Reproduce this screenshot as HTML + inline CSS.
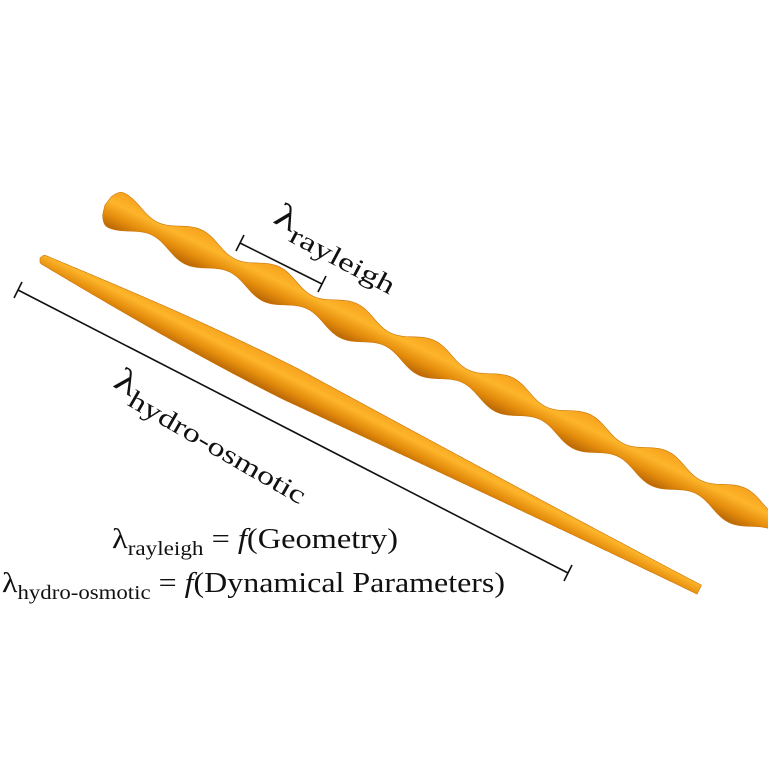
<!DOCTYPE html>
<html><head><meta charset="utf-8"><style>
html,body{margin:0;padding:0;background:#fff;}
svg{display:block;}
text{font-family:"Liberation Serif",serif;fill:#111;}
</style></head><body>
<svg id="s" width="768" height="768" viewBox="0 0 768 768">
<defs>
<linearGradient id="g" x1="0" y1="0" x2="0" y2="1">
<stop offset="0" stop-color="#f7a21c"/>
<stop offset="0.35" stop-color="#fdb52a"/>
<stop offset="0.7" stop-color="#e48c0c"/>
<stop offset="1" stop-color="#b86606"/>
</linearGradient>
</defs>
<g id="tubes"></g>
<g stroke="#111" stroke-width="1.6">
<line x1="240" y1="243" x2="322" y2="284"/>
<line x1="236" y1="251" x2="244" y2="235"/>
<line x1="318" y1="292" x2="326" y2="276"/>
</g>
<g stroke="#111" stroke-width="1.6">
<line x1="18" y1="290" x2="568" y2="573"/>
<line x1="14" y1="298" x2="22" y2="282"/>
<line x1="564" y1="581" x2="572" y2="565"/>
</g>
<text transform="translate(272,222) rotate(28)" font-size="34" textLength="138" lengthAdjust="spacingAndGlyphs">λ<tspan font-size="26" dy="9">rayleigh</tspan></text>
<text transform="translate(112,386) rotate(30)" font-size="34" textLength="222" lengthAdjust="spacingAndGlyphs">λ<tspan font-size="26" dy="9">hydro-osmotic</tspan></text>
<text x="112" y="548" font-size="28" textLength="286" lengthAdjust="spacingAndGlyphs">λ<tspan font-size="20" dy="7">rayleigh</tspan><tspan dy="-7"> = </tspan><tspan font-style="italic">f</tspan>(Geometry)</text>
<text x="2" y="592" font-size="28" textLength="503" lengthAdjust="spacingAndGlyphs">λ<tspan font-size="20" dy="7">hydro-osmotic</tspan><tspan dy="-7"> = </tspan><tspan font-style="italic">f</tspan>(Dynamical Parameters)</text>
</svg>
<script>
const g=document.getElementById('tubes');
function tube(name,x0,y0,x1,y1,len,rf){
  const ang=Math.atan2(y1-y0,x1-x0)*180/Math.PI;
  const top=[],bot=[];
  for(let s=0;s<=len;s+=2){const r=rf(s);top.push(s+','+(-r));bot.unshift(s+','+r);}
  const p=document.createElementNS('http://www.w3.org/2000/svg','polygon');
  p.setAttribute('points',top.concat(bot).join(' '));
  p.setAttribute('fill','url(#g)');
  p.setAttribute('stroke','#c97508');
  p.setAttribute('stroke-width','0.6');
  p.setAttribute('stroke-linejoin','round');
  const gr=document.createElementNS('http://www.w3.org/2000/svg','g');
  gr.setAttribute('transform','translate('+x0+','+y0+') rotate('+ang+')');
  
  
  gr.appendChild(p);g.appendChild(gr);
}
tube('rayleigh-tube',105,205,768,520,820,function(s){
  let r=13+6*Math.cos(2*Math.PI*(s-12)/86);
  if(s<12){r=r*Math.sqrt(Math.max(0,1-Math.pow((12-s)/12,2)));}
  return r;
});
const L=739;
tube('hydro-osmotic-tube',40,258,700,590,L,function(s){
  let r;
  if(s<280) r=4.5+12.5*Math.sin(Math.PI*s/560);
  else r=5+12*Math.pow((L-s)/(L-280),1.2);
  if(s<4) r*=Math.sqrt(1-Math.pow((4-s)/4,2));
  return r;
});
</script>
</body></html>
